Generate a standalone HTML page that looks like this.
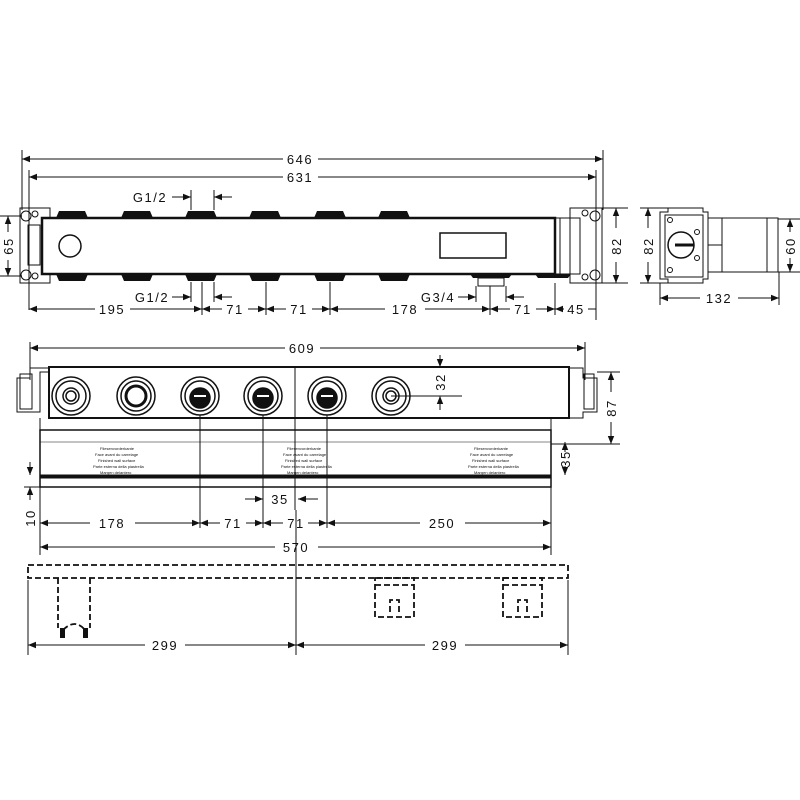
<!DOCTYPE html>
<html><head><style>body{margin:0;background:#fff}svg{display:block}text{font-family:"Liberation Sans",sans-serif;font-size:13px;fill:#111;letter-spacing:1.5px}</style></head>
<body>
<svg width="800" height="800" viewBox="0 0 800 800" xmlns="http://www.w3.org/2000/svg">
<defs>
<marker id="a" viewBox="0 0 10 10" refX="10" refY="5" markerWidth="8" markerHeight="8" orient="auto-start-reverse"><path d="M0,1 L10,5 L0,9 z" fill="#111"/></marker>
</defs>
<g stroke="#111" fill="none" stroke-width="1">
<!-- TOP VIEW dims -->
<line x1="22" y1="150" x2="22" y2="210"/><line x1="603" y1="150" x2="603" y2="210"/>
<line x1="29" y1="170" x2="29" y2="310"/><line x1="596" y1="170" x2="596" y2="320"/>
<line x1="22" y1="159" x2="283" y2="159" marker-start="url(#a)"/><line x1="318" y1="159" x2="603" y2="159" marker-end="url(#a)"/>
<line x1="29" y1="177" x2="283" y2="177" marker-start="url(#a)"/><line x1="318" y1="177" x2="596" y2="177" marker-end="url(#a)"/>
<!-- G1/2 top -->
<line x1="172" y1="197" x2="191" y2="197" marker-end="url(#a)"/><line x1="232" y1="197" x2="214" y2="197" marker-end="url(#a)"/>
<line x1="191" y1="190" x2="191" y2="210"/><line x1="214" y1="190" x2="214" y2="210"/>
<!-- left bracket -->
<path d="M20,208 H50 V218 H42 V274 H50 V283 H20 Z"/>
<circle cx="26" cy="216" r="5"/><circle cx="35" cy="214" r="3"/><circle cx="26" cy="275" r="5"/><circle cx="35" cy="276" r="3"/>
<rect x="28" y="225" width="12" height="40"/>
<!-- body -->
<rect x="42" y="218" width="513" height="56" stroke-width="2.5"/>
<circle cx="70" cy="246" r="11" stroke-width="1.5"/>
<rect x="440" y="233" width="66" height="25" stroke-width="1.5"/>
<path d="M555,218 H570 V274 H555 M560,218 V274"/>
<path d="M570,208 H602 V283 H570 V274 H580 V218 H570 Z"/>
<circle cx="595" cy="216" r="5"/><circle cx="585" cy="213" r="3"/><circle cx="595" cy="275" r="5"/><circle cx="585" cy="277" r="3"/>
<g fill="#111" stroke="none">
<path d="M56,218 l3,-7 h26 l3,7z M121,218 l3,-7 h26 l3,7z M185,218 l3,-7 h26 l3,7z M249,218 l3,-7 h26 l3,7z M314,218 l3,-7 h26 l3,7z M378,218 l3,-7 h26 l3,7z"/>
<path d="M56,274 l3,7 h26 l3,-7z M121,274 l3,7 h26 l3,-7z M185,274 l3,7 h26 l3,-7z M249,274 l3,7 h26 l3,-7z M314,274 l3,7 h26 l3,-7z M378,274 l3,7 h26 l3,-7z M470,274 l3,4 h36 l3,-4z M535,274 l3,4 h30 l3,-4z"/>
</g>
<rect x="478" y="278" width="26" height="8"/>
<!-- 65 / 82 -->
<line x1="0" y1="216" x2="22" y2="216"/><line x1="0" y1="276" x2="22" y2="276"/>
<line x1="8" y1="232" x2="8" y2="216" marker-end="url(#a)"/><line x1="8" y1="260" x2="8" y2="276" marker-end="url(#a)"/>
<line x1="602" y1="208" x2="628" y2="208"/><line x1="602" y1="283" x2="628" y2="283"/>
<line x1="616" y1="228" x2="616" y2="208" marker-end="url(#a)"/><line x1="616" y1="262" x2="616" y2="283" marker-end="url(#a)"/>
<!-- bottom dims -->
<line x1="202" y1="282" x2="202" y2="315"/><line x1="266" y1="282" x2="266" y2="315"/><line x1="330" y1="282" x2="330" y2="315"/>
<line x1="490" y1="286" x2="490" y2="315"/><line x1="555" y1="283" x2="555" y2="315"/>
<line x1="191" y1="282" x2="191" y2="302"/><line x1="214" y1="282" x2="214" y2="302"/>
<line x1="476" y1="286" x2="476" y2="302"/><line x1="506" y1="286" x2="506" y2="302"/>
<line x1="172" y1="297" x2="191" y2="297" marker-end="url(#a)"/><line x1="232" y1="297" x2="214" y2="297" marker-end="url(#a)"/>
<line x1="458" y1="297" x2="476" y2="297" marker-end="url(#a)"/><line x1="524" y1="297" x2="506" y2="297" marker-end="url(#a)"/>
<line x1="29" y1="309" x2="95" y2="309" marker-start="url(#a)"/><line x1="130" y1="309" x2="202" y2="309" marker-end="url(#a)"/>
<line x1="202" y1="309" x2="222" y2="309" marker-start="url(#a)"/><line x1="248" y1="309" x2="266" y2="309" marker-end="url(#a)"/>
<line x1="266" y1="309" x2="286" y2="309" marker-start="url(#a)"/><line x1="312" y1="309" x2="330" y2="309" marker-end="url(#a)"/>
<line x1="330" y1="309" x2="385" y2="309" marker-start="url(#a)"/><line x1="425" y1="309" x2="490" y2="309" marker-end="url(#a)"/>
<line x1="490" y1="309" x2="510" y2="309" marker-start="url(#a)"/><line x1="536" y1="309" x2="555" y2="309" marker-end="url(#a)"/>
<line x1="555" y1="309" x2="564" y2="309" marker-start="url(#a)"/><line x1="588" y1="309" x2="596" y2="309"/>
<!-- SIDE VIEW -->
<path d="M660,212 H668 V208 H703 V212 H708 V279 H703 V283 H668 V279 H660 Z"/>
<rect x="665" y="215" width="38" height="62"/>
<circle cx="681" cy="245" r="13" stroke-width="1.5"/><line x1="675" y1="245" x2="694" y2="245" stroke-width="3"/>
<circle cx="670" cy="220" r="2.5"/><circle cx="697" cy="232" r="2.5"/><circle cx="697" cy="258" r="2.5"/><circle cx="670" cy="270" r="2.5"/>
<rect x="708" y="218" width="14" height="54"/><line x1="708" y1="245" x2="722" y2="245"/>
<rect x="722" y="218" width="45" height="54"/><rect x="767" y="218" width="11" height="54"/>
<line x1="640" y1="208" x2="668" y2="208"/><line x1="640" y1="283" x2="668" y2="283"/>
<line x1="648" y1="228" x2="648" y2="208" marker-end="url(#a)"/><line x1="648" y1="262" x2="648" y2="283" marker-end="url(#a)"/>
<line x1="778" y1="219" x2="800" y2="219"/><line x1="778" y1="272" x2="800" y2="272"/>
<line x1="790" y1="232" x2="790" y2="219" marker-end="url(#a)"/><line x1="790" y1="258" x2="790" y2="272" marker-end="url(#a)"/>
<line x1="660" y1="283" x2="660" y2="305"/><line x1="779" y1="272" x2="779" y2="305"/>
<line x1="660" y1="298" x2="700" y2="298" marker-start="url(#a)"/><line x1="738" y1="298" x2="779" y2="298" marker-end="url(#a)"/>
<!-- MIDDLE VIEW -->
<line x1="30" y1="342" x2="30" y2="380"/><line x1="585" y1="342" x2="585" y2="380"/>
<line x1="30" y1="348" x2="285" y2="348" marker-start="url(#a)"/><line x1="320" y1="348" x2="585" y2="348" marker-end="url(#a)"/>
<path d="M17,378 H30 V368 H49 V372 H40 V412 H17 Z"/><rect x="20" y="374" width="12" height="35"/>
<rect x="49" y="367" width="520" height="51" stroke-width="2"/>
<path d="M569,368 H583 V378 H597 V412 H583 V418 H569"/><rect x="584" y="374" width="10" height="35"/>
<path d="M40,418 V430 H551 V418"/>
<rect x="40" y="430" width="511" height="57" stroke-width="1.5"/>
<rect x="40" y="475" width="511" height="3" fill="#111"/>
<line x1="40" y1="442" x2="551" y2="442" stroke-width="0.6"/>
<g stroke-width="1.5">
<circle cx="71" cy="396" r="19"/><circle cx="71" cy="396" r="15"/><circle cx="71" cy="396" r="8"/><circle cx="71" cy="396" r="5"/>
<circle cx="136" cy="396" r="19"/><circle cx="136" cy="396" r="15"/><circle cx="136" cy="396" r="10" stroke-width="3"/>
<circle cx="200" cy="396" r="19"/><circle cx="200" cy="396" r="15"/><circle cx="200" cy="398" r="10" fill="#111"/>
<circle cx="263" cy="396" r="19"/><circle cx="263" cy="396" r="15"/><circle cx="263" cy="398" r="10" fill="#111"/>
<circle cx="327" cy="396" r="19"/><circle cx="327" cy="396" r="15"/><circle cx="327" cy="398" r="10" fill="#111"/>
<circle cx="391" cy="396" r="19"/><circle cx="391" cy="396" r="15"/><circle cx="391" cy="396" r="8"/><circle cx="391" cy="396" r="5"/>
</g>
<g stroke="#fff" stroke-width="2"><line x1="194" y1="396" x2="206" y2="396"/><line x1="257" y1="396" x2="269" y2="396"/><line x1="321" y1="396" x2="333" y2="396"/></g>
<line x1="200" y1="415" x2="200" y2="528"/><line x1="263" y1="415" x2="263" y2="528"/><line x1="327" y1="415" x2="327" y2="528"/>
<line x1="295" y1="368" x2="295" y2="510"/>
<line x1="391" y1="396" x2="462" y2="396"/>
<line x1="440" y1="355" x2="440" y2="367" marker-end="url(#a)"/><line x1="440" y1="410" x2="440" y2="396" marker-end="url(#a)"/>
<line x1="597" y1="372" x2="620" y2="372"/><line x1="551" y1="444" x2="620" y2="444"/>
<line x1="611" y1="392" x2="611" y2="372" marker-end="url(#a)"/><line x1="611" y1="422" x2="611" y2="444" marker-end="url(#a)"/>
<line x1="565" y1="452" x2="565" y2="442" marker-end="url(#a)"/><line x1="565" y1="466" x2="565" y2="475" marker-end="url(#a)"/>
<line x1="30" y1="462" x2="30" y2="475" marker-end="url(#a)"/><line x1="30" y1="500" x2="30" y2="487" marker-end="url(#a)"/>
<line x1="24" y1="487" x2="40" y2="487"/>
<line x1="245" y1="499" x2="263" y2="499" marker-end="url(#a)"/><line x1="318" y1="499" x2="298" y2="499" marker-end="url(#a)"/>
<line x1="40" y1="487" x2="40" y2="555"/><line x1="551" y1="487" x2="551" y2="555"/>
<line x1="40" y1="523" x2="90" y2="523" marker-start="url(#a)"/><line x1="135" y1="523" x2="200" y2="523" marker-end="url(#a)"/>
<line x1="200" y1="523" x2="220" y2="523" marker-start="url(#a)"/><line x1="246" y1="523" x2="263" y2="523" marker-end="url(#a)"/>
<line x1="263" y1="523" x2="283" y2="523" marker-start="url(#a)"/><line x1="308" y1="523" x2="327" y2="523" marker-end="url(#a)"/>
<line x1="327" y1="523" x2="420" y2="523" marker-start="url(#a)"/><line x1="465" y1="523" x2="551" y2="523" marker-end="url(#a)"/>
<line x1="40" y1="547" x2="275" y2="547" marker-start="url(#a)"/><line x1="318" y1="547" x2="551" y2="547" marker-end="url(#a)"/>
<!-- DASHED VIEW -->
<g stroke-dasharray="6,3" stroke-width="1.8">
<rect x="28" y="565" width="540" height="13"/>
<path d="M58,578 V628 M90,578 V628 M63,630 q12,-12 22,0"/>
<rect x="375" y="578" width="39" height="39"/><line x1="375" y1="585" x2="414" y2="585"/><path d="M390,612 V600 H399 V612"/>
<rect x="503" y="578" width="39" height="39"/><line x1="503" y1="585" x2="542" y2="585"/><path d="M518,612 V600 H527 V612"/>
</g>
<line x1="28" y1="580" x2="28" y2="655"/><line x1="568" y1="580" x2="568" y2="655"/><line x1="296" y1="510" x2="296" y2="655"/>
<line x1="28" y1="645" x2="145" y2="645" marker-start="url(#a)"/><line x1="185" y1="645" x2="296" y2="645" marker-end="url(#a)"/>
<line x1="296" y1="645" x2="425" y2="645" marker-start="url(#a)"/><line x1="465" y1="645" x2="568" y2="645" marker-end="url(#a)"/>
</g>
<g fill="#111"><rect x="60" y="628" width="5" height="10"/><rect x="83" y="628" width="5" height="10"/></g>
<!-- panel tiny text -->
<g font-size="4" style="font-size:4px;letter-spacing:0" fill="#444">
<text x="100" y="450" style="font-size:4px;letter-spacing:0">Fliesenvorderkante</text>
<text x="95" y="456" style="font-size:4px;letter-spacing:0">Face avant du carrelage</text>
<text x="98" y="462" style="font-size:4px;letter-spacing:0">Finished wall surface</text>
<text x="93" y="468" style="font-size:4px;letter-spacing:0">Parte esterna della piastrella</text>
<text x="100" y="474" style="font-size:4px;letter-spacing:0">Margen delantero</text>
<text x="287" y="450" style="font-size:4px;letter-spacing:0">Fliesenvorderkante</text>
<text x="283" y="456" style="font-size:4px;letter-spacing:0">Face avant du carrelage</text>
<text x="285" y="462" style="font-size:4px;letter-spacing:0">Finished wall surface</text>
<text x="281" y="468" style="font-size:4px;letter-spacing:0">Parte esterna della piastrella</text>
<text x="287" y="474" style="font-size:4px;letter-spacing:0">Margen delantero</text>
<text x="474" y="450" style="font-size:4px;letter-spacing:0">Fliesenvorderkante</text>
<text x="470" y="456" style="font-size:4px;letter-spacing:0">Face avant du carrelage</text>
<text x="472" y="462" style="font-size:4px;letter-spacing:0">Finished wall surface</text>
<text x="468" y="468" style="font-size:4px;letter-spacing:0">Parte esterna della piastrella</text>
<text x="474" y="474" style="font-size:4px;letter-spacing:0">Margen delantero</text>
</g>
<!-- labels -->
<text x="300" y="164" text-anchor="middle">646</text>
<text x="300" y="182" text-anchor="middle">631</text>
<text x="150" y="202" text-anchor="middle">G1/2</text>
<text x="152" y="302" text-anchor="middle">G1/2</text>
<text x="438" y="302" text-anchor="middle">G3/4</text>
<text x="112" y="314" text-anchor="middle">195</text>
<text x="235" y="314" text-anchor="middle">71</text>
<text x="299" y="314" text-anchor="middle">71</text>
<text x="405" y="314" text-anchor="middle">178</text>
<text x="523" y="314" text-anchor="middle">71</text>
<text x="576" y="314" text-anchor="middle">45</text>
<text x="719" y="303" text-anchor="middle">132</text>
<text transform="translate(13,246) rotate(-90)" text-anchor="middle">65</text>
<text transform="translate(621,246) rotate(-90)" text-anchor="middle">82</text>
<text transform="translate(653,246) rotate(-90)" text-anchor="middle">82</text>
<text transform="translate(795,246) rotate(-90)" text-anchor="middle">60</text>
<text x="302" y="353" text-anchor="middle">609</text>
<text transform="translate(445,382) rotate(-90)" text-anchor="middle">32</text>
<text transform="translate(616,408) rotate(-90)" text-anchor="middle">87</text>
<text transform="translate(570,459) rotate(-90)" text-anchor="middle">35</text>
<text transform="translate(35,518) rotate(-90)" text-anchor="middle">10</text>
<text x="280" y="504" text-anchor="middle">35</text>
<text x="112" y="528" text-anchor="middle">178</text>
<text x="233" y="528" text-anchor="middle">71</text>
<text x="296" y="528" text-anchor="middle">71</text>
<text x="442" y="528" text-anchor="middle">250</text>
<text x="296" y="552" text-anchor="middle">570</text>
<text x="165" y="650" text-anchor="middle">299</text>
<text x="445" y="650" text-anchor="middle">299</text>
</svg>
</body></html>
